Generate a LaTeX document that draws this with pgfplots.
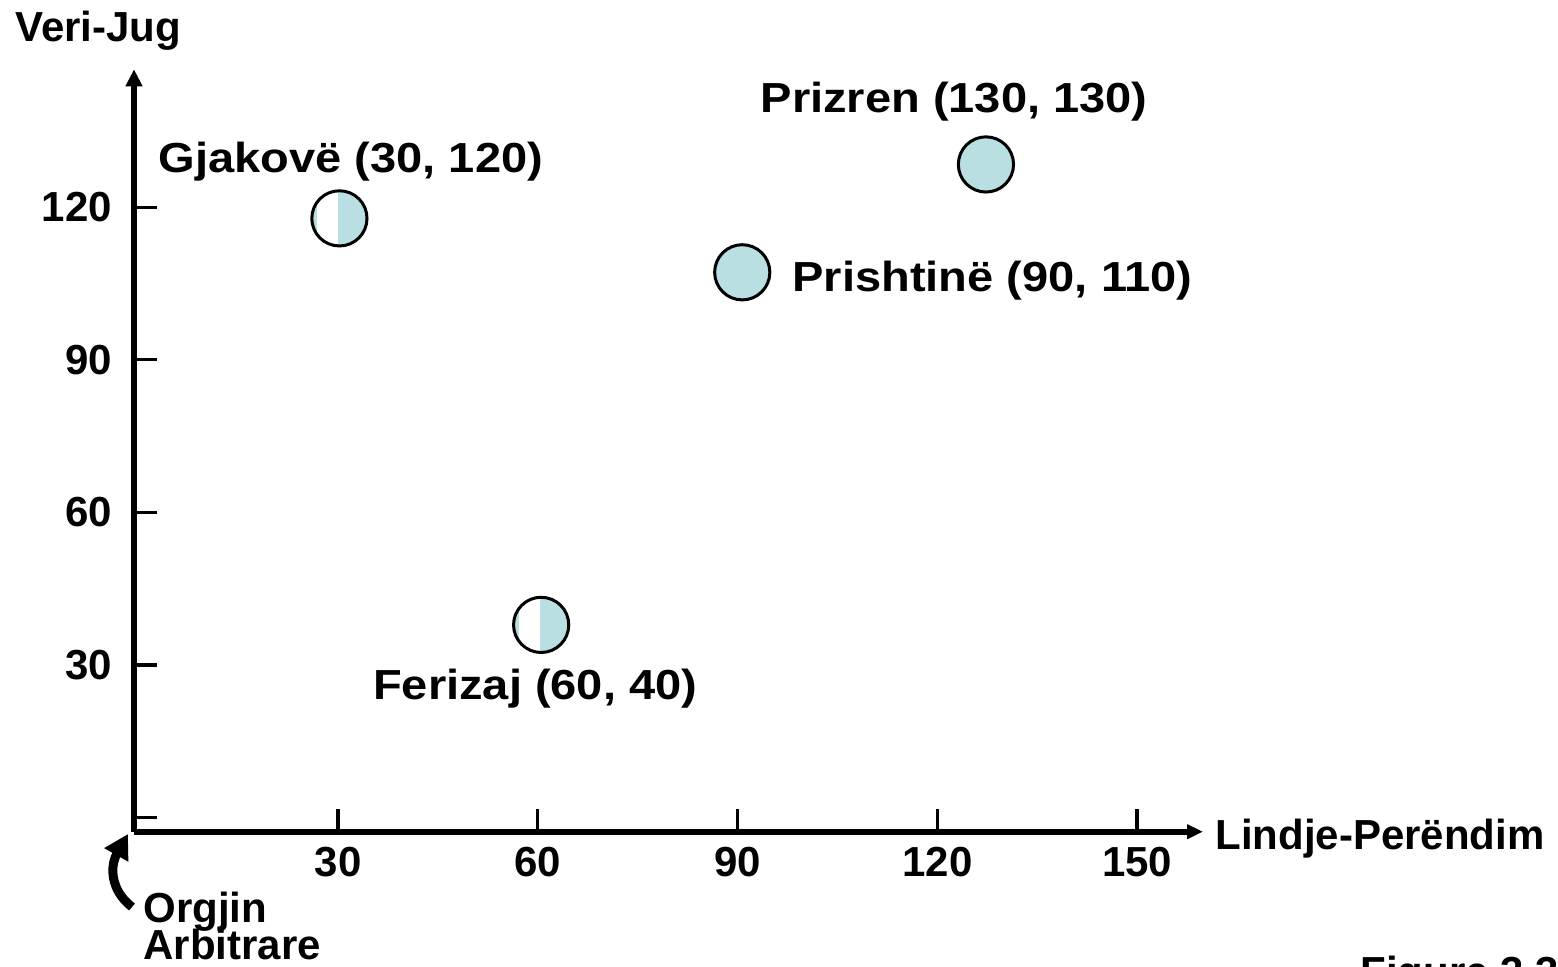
\documentclass[border=0pt]{standalone}
\usepackage{fontspec}
\setmainfont{Liberation Sans}
\newfontfamily\widefont{Liberation Sans}[FakeStretch=1.12]
\usepackage{pgfplots}
\pgfplotsset{compat=1.18}
\usetikzlibrary{arrows.meta}

\definecolor{cityfill}{RGB}{186,223,227}

% circle with a white strip on its left half
\pgfdeclareplotmark{halfdisc}{%
  \pgfpathcircle{\pgfpointorigin}{\pgfplotmarksize}%
  \pgfusepathqfill
  \begin{pgfscope}
    \pgfpathcircle{\pgfpointorigin}{\pgfplotmarksize}%
    \pgfusepathqclip
    \pgfsetfillcolor{white}%
    \pgfpathrectanglecorners{\pgfpoint{-0.82\pgfplotmarksize}{-1.1\pgfplotmarksize}}{\pgfpoint{-0.05\pgfplotmarksize}{1.1\pgfplotmarksize}}%
    \pgfusepathqfill
  \end{pgfscope}
  \pgfpathcircle{\pgfpointorigin}{\pgfplotmarksize}%
  \pgfusepathqstroke
}

\newcommand\lbl{\bfseries\fontsize{21}{25}\selectfont}
\newcommand\citylbl{\widefont\bfseries\fontsize{21}{25}\selectfont}

\begin{document}
\begin{tikzpicture}
\path[use as bounding box] (0,0) rectangle (779pt,483pt);
\clip (0,0) rectangle (779pt,483pt);
\begin{axis}[
    at={(67pt,67.15pt)}, anchor=south west,
    scale only axis, width=534.5pt, height=381.2pt,
    xmin=-0.65, xmax=159.9, ymin=-2.75, ymax=147.1,
    axis lines=left,
    axis line style={line width=3.2pt},
    x axis line style={-{Triangle[length=8pt,width=7pt]}},
    y axis line style={-{Triangle[length=8.5pt,width=8pt]}},
    xtick={30,60,...,150},
    ytick={0,30,...,120},
    yticklabels={,30,60,90,120},
    tick align=inside,
    major tick length=11.5pt,
    tick style={line width=1.6pt, black},
    /pgf/number format/assume math mode=true,
    tick label style={font=\lbl},
    yticklabel style={xshift=-7.5pt},
    xticklabel style={yshift=-4pt},
    clip=false,
  ]
  \addplot[only marks, mark=*, mark size=13.8pt,
    mark options={fill=cityfill, draw=black, line width=1.5pt}]
    coordinates {(127.3,128.4) (90.7,107.2)};
  \addplot[only marks, mark=halfdisc, mark size=13.8pt,
    mark options={fill=cityfill, draw=black, line width=1.5pt}]
    coordinates {(30.2,117.8) (60.5,37.9)};

  \node[anchor=base west, inner sep=0, font=\citylbl] at (axis cs:3.0,126.9) {Gjakovë (30, 120)};
  \node[anchor=base west, inner sep=0, font=\citylbl] at (axis cs:93.4,138.6) {Prizren (130, 130)};
  \node[anchor=base west, inner sep=0, font=\citylbl] at (axis cs:98.2,103.5) {Prishtinë (90, 110)};
  \node[anchor=base west, inner sep=0, font=\citylbl] at (axis cs:35.2,23.2) {Ferizaj (60, 40)};
\end{axis}

\node[anchor=base west, inner sep=0, font=\lbl] at (7.5pt,462pt) {Veri-Jug};
\node[anchor=base west, inner sep=0, font=\lbl] at (607.5pt,58.5pt) {Lindje-Perëndim};
\node[anchor=base west, inner sep=0, font=\lbl] at (71.5pt,22pt) {Orgjin};
\node[anchor=base west, inner sep=0, font=\lbl] at (71.5pt,3.5pt) {Arbitrare};
\node[anchor=base west, inner sep=0, font=\lbl] at (680pt,-10pt) {Figure 3.3};
\draw[line width=4.5pt, -{Triangle[length=12pt,width=13pt]}]
  (66pt,29.5pt) .. controls (55pt,38pt) and (55pt,50pt) .. (64pt,66pt);
\end{tikzpicture}
\end{document}
